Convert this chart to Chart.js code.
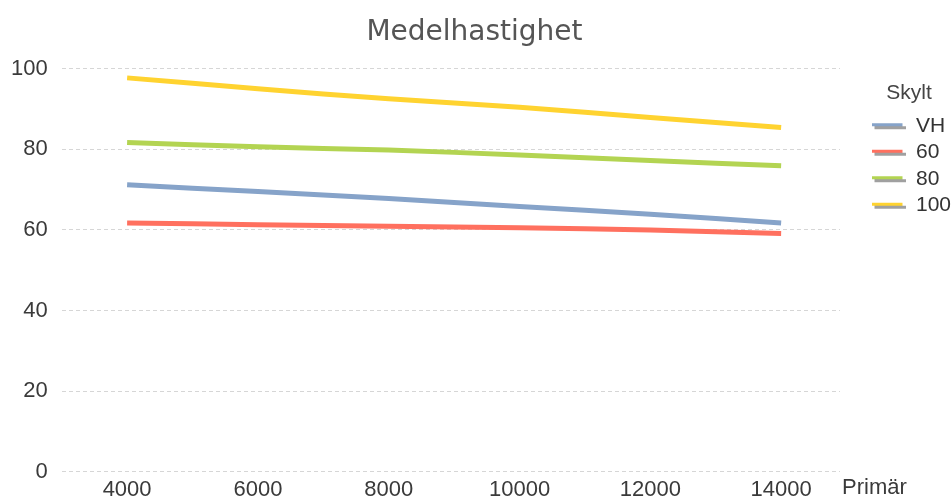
<!DOCTYPE html>
<html lang="sv">
<head>
  <meta charset="UTF-8">
  <title>Medelhastighet</title>
  <script src="https://cdn.jsdelivr.net/npm/chart.js"></script>
  <style>
    body { margin: 0; background: #fff; }
    #wrap { width: 952px; height: 499px; }
  </style>
</head>
<body>
  <div id="wrap"><canvas id="chart"></canvas></div>

  <script>
    // Primär (x) och medelhastighet per skylt
    const primar = [4000, 6000, 8000, 10000, 12000, 14000];
    const vh = [71.2, 69.5, 67.8, 65.8, 63.9, 61.7];
    const s60 = [61.7, 61.3, 60.9, 60.5, 60.0, 59.1];
    const s80 = [81.7, 80.6, 79.8, 78.6, 77.2, 75.9];
    const s100 = [97.7, 95.0, 92.5, 90.4, 87.9, 85.4];
    const seriesNames = ["VH", "60", "80", "100"];
    const seriesColors = ["#86a3c9", "#ff705f", "#b3d452", "#ffd330"];
    const yTicks = [0, 20, 40, 60, 80, 100];

    const font = "'Liberation Sans', Arial, sans-serif";

    // small line swatch with grey shadow for the legend
    function swatch(color) {
      const c = document.createElement("canvas");
      c.width = 34; c.height = 8;
      const g = c.getContext("2d");
      g.fillStyle = "#a0a0a0";
      g.fillRect(3, 4, 31, 3);
      g.fillStyle = color;
      g.fillRect(0, 1, 31, 3);
      return c;
    }
    const swatches = seriesColors.map(swatch);

    const allSeries = [vh, s60, s80, s100];
    const datasets = allSeries.map((vals, i) => ({
      label: seriesNames[i],
      data: vals.map((v, j) => ({ x: primar[j], y: v })),
      borderColor: seriesColors[i],
      backgroundColor: seriesColors[i],
      borderWidth: 5,
      pointRadius: 0,
      tension: 0.2,
      fill: false
    }));

    const xLabelPlugin = {
      id: "xLabel",
      afterDraw(chart) {
        const ctx = chart.ctx;
        const a = chart.chartArea;
        ctx.save();
        ctx.font = "22px " + font;
        ctx.fillStyle = "#3a3a3a";
        ctx.textBaseline = "middle";
        ctx.textAlign = "left";
        ctx.fillText("Primär", a.right + 2, 488);
        ctx.restore();
      }
    };

    new Chart(document.getElementById("chart"), {
      type: "line",
      data: { datasets },
      options: {
        responsive: true,
        maintainAspectRatio: false,
        animation: false,
        layout: { padding: { left: -3, right: 0, top: 0, bottom: -8 } },
        plugins: {
          title: {
            display: true,
            text: "Medelhastighet",
            color: "#555",
            font: { family: "'DejaVu Sans', Verdana, sans-serif", size: 28, weight: "normal" },
            padding: { top: 16, bottom: 19 }
          },
          legend: {
            position: "right",
            align: "start",
            maxWidth: 86,
            title: {
              display: true,
              text: "Skylt",
              color: "#444",
              font: { family: font, size: 21 },
              padding: { top: 83, bottom: 2 },
              align: "start"
            },
            labels: {
              color: "#333",
              font: { family: font, size: 21 },
              padding: 5.5,
              usePointStyle: true,
              pointStyleWidth: 34,
              generateLabels: chart =>
                Chart.defaults.plugins.legend.labels.generateLabels(chart)
                  .map((l, i) => ({ ...l, pointStyle: swatches[i] }))
            }
          },
          tooltip: { enabled: false }
        },
        scales: {
          x: {
            type: "linear",
            min: 3000,
            max: 14900,
            afterBuildTicks: s => { s.ticks = primar.map(v => ({ value: v })); },
            grid: { display: false },
            border: { display: false },
            ticks: {
              color: "#3a3a3a",
              font: { family: font, size: 22, lineHeight: 1 },
              padding: -1,
              maxRotation: 0,
              callback: v => String(v)
            }
          },
          y: {
            min: 0,
            max: 100,
            afterBuildTicks: s => { s.ticks = yTicks.map(v => ({ value: v })); },
            grid: { color: "#d6d6d6", lineWidth: 1, drawTicks: false },
            border: { display: false, dash: [4, 3] },
            ticks: {
              color: "#3a3a3a",
              font: { family: font, size: 22 },
              padding: 14
            }
          },
          yR: {
            position: "right",
            display: true,
            grid: { display: false },
            border: { display: false },
            ticks: { display: false },
            afterFit: s => { s.width = 26; }
          }
        }
      },
      plugins: [xLabelPlugin]
    });
  </script>
</body>
</html>
